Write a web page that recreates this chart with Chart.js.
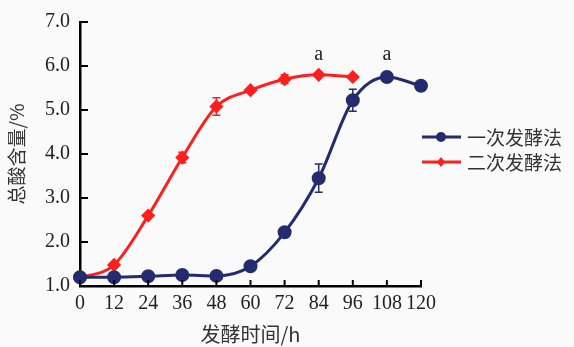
<!DOCTYPE html>
<html>
<head>
<meta charset="utf-8">
<script src="https://cdn.jsdelivr.net/npm/chart.js@4"></script>
<style>
  html, body { margin: 0; padding: 0; background: #fafafa; }
  #wrap { width: 574px; height: 347px; }
</style>
</head>
<body>
<div id="wrap"><canvas id="acidChart" width="574" height="347"></canvas></div>
<script>
// fermentation time (h)
const hoursOnce = [0, 12, 24, 36, 48, 60, 72, 84, 96, 108, 120];
const hoursTwice = [0, 12, 24, 36, 48, 60, 72, 84, 96];
// total acid content (%)
const acidOnce = [1.2, 1.2, 1.22, 1.25, 1.23, 1.45, 2.22, 3.45, 5.22, 5.75, 5.55];
const acidTwice = [1.18, 1.48, 2.6, 3.92, 5.08, 5.45, 5.7, 5.8, 5.75];
// error bars
const errOnce = [0.03, 0.03, 0.03, 0.03, 0.03, 0.04, 0.05, 0.32, 0.25, 0.05, 0.04];
const errTwice = [0.03, 0.05, 0.06, 0.12, 0.2, 0.06, 0.1, 0.05, 0.06];
// significance letters
const letterHours = [84, 108];
const letterText = ['a', 'a'];
const letterLevel = [6.26, 6.26];

const seriesNames = ['一次发酵法', '二次发酵法'];
const blue = '#232c6e';
const red = '#ff1f1f';
const serif = '"Liberation Serif", "Times New Roman", serif';
const cjk = '"Noto Sans CJK SC", sans-serif';

function toPoints(xs, ys) {
  return xs.map((x, i) => ({ x: x, y: ys[i] }));
}

// error bars, inward ticks, letters and legend
const extras = {
  id: 'extras',
  afterDatasetsDraw(chart) {
    const ctx = chart.ctx;
    const xs = chart.scales.x, ys = chart.scales.y;
    const area = chart.chartArea;

    // inward tick marks
    ctx.save();
    ctx.strokeStyle = '#000';
    ctx.lineWidth = 2;
    for (let v = 0; v <= 120; v += 12) {
      const px = xs.getPixelForValue(v);
      ctx.beginPath();
      ctx.moveTo(px, area.bottom);
      ctx.lineTo(px, area.bottom - 6);
      ctx.stroke();
    }
    for (let v = 1; v <= 7; v += 1) {
      const py = ys.getPixelForValue(v);
      ctx.beginPath();
      ctx.moveTo(area.left, py);
      ctx.lineTo(area.left + 8, py);
      ctx.stroke();
    }

    // error bars
    const bars = [[hoursOnce, acidOnce, errOnce, blue], [hoursTwice, acidTwice, errTwice, red]];
    bars.forEach(([hx, vy, ev, col]) => {
      ctx.strokeStyle = col;
      ctx.lineWidth = 1.5;
      hx.forEach((h, i) => {
        if (ev[i] < 0.08) return;
        const px = xs.getPixelForValue(h);
        const top = ys.getPixelForValue(vy[i] + ev[i]);
        const bot = ys.getPixelForValue(vy[i] - ev[i]);
        ctx.beginPath();
        ctx.moveTo(px, top); ctx.lineTo(px, bot);
        ctx.moveTo(px - 4, top); ctx.lineTo(px + 4, top);
        ctx.moveTo(px - 4, bot); ctx.lineTo(px + 4, bot);
        ctx.stroke();
      });
    });

    // letters
    ctx.fillStyle = '#222';
    ctx.font = '20px ' + serif;
    ctx.textAlign = 'center';
    ctx.textBaseline = 'middle';
    letterHours.forEach((h, i) => {
      ctx.fillText(letterText[i], xs.getPixelForValue(h), ys.getPixelForValue(letterLevel[i]));
    });

    // legend
    const cols = [blue, red];
    const rows = [137, 162];
    ctx.font = '19px ' + cjk;
    ctx.textAlign = 'left';
    seriesNames.forEach((name, i) => {
      const y = rows[i];
      ctx.strokeStyle = cols[i];
      ctx.lineWidth = 3;
      ctx.beginPath();
      ctx.moveTo(422, y); ctx.lineTo(461, y);
      ctx.stroke();
      ctx.fillStyle = cols[i];
      ctx.beginPath();
      if (i === 0) {
        ctx.arc(441, y, 5, 0, Math.PI * 2);
      } else {
        ctx.moveTo(441, y - 5); ctx.lineTo(445, y); ctx.lineTo(441, y + 5); ctx.lineTo(437, y);
        ctx.closePath();
      }
      ctx.fill();
      ctx.fillStyle = '#333';
      ctx.fillText(name, 467, y + 1);
    });
    ctx.restore();
  }
};

const chart = new Chart(document.getElementById('acidChart'), {
  type: 'line',
  data: {
    datasets: [
      {
        label: seriesNames[0],
        data: toPoints(hoursOnce, acidOnce),
        borderColor: blue,
        backgroundColor: blue,
        borderWidth: 3,
        pointRadius: 5.5,
        pointStyle: 'circle',
        cubicInterpolationMode: 'monotone',
        clip: false
      },
      {
        label: seriesNames[1],
        data: toPoints(hoursTwice, acidTwice),
        borderColor: red,
        backgroundColor: red,
        borderWidth: 3,
        pointRadius: 5,
        pointStyle: 'rectRot',
        cubicInterpolationMode: 'monotone',
        clip: false
      }
    ]
  },
  options: {
    responsive: false,
    animation: false,
    layout: { padding: { top: 21, right: 153, left: 0, bottom: 0 } },
    plugins: {
      legend: { display: false },
      tooltip: { enabled: false }
    },
    scales: {
      x: {
        type: 'linear',
        min: 0,
        max: 120,
        afterFit: (s) => { s.height = 61; },
        grid: { display: true, drawOnChartArea: false, drawTicks: false },
        border: { color: '#000', width: 2.5 },
        ticks: {
          stepSize: 12,
          padding: 6,
          autoSkip: false,
          maxRotation: 0,
          minRotation: 0,
          color: '#222',
          font: { family: serif, size: 20 }
        },
        title: {
          display: true,
          text: '发酵时间/h',
          color: '#333',
          padding: { top: 0, bottom: 1 },
          font: { family: cjk, size: 20 }
        }
      },
      y: {
        min: 1,
        max: 7,
        afterFit: (s) => { s.width = 80; },
        grid: { display: true, drawOnChartArea: false, drawTicks: false },
        border: { color: '#000', width: 2.5 },
        ticks: {
          stepSize: 1,
          padding: 10,
          color: '#222',
          font: { family: serif, size: 20 },
          callback: (v) => v.toFixed(1)
        },
        title: {
          display: true,
          text: '总酸含量/%',
          color: '#333',
          padding: { top: 5, bottom: 0 },
          font: { family: cjk, size: 19 }
        }
      }
    }
  },
  plugins: [extras]
});
</script>
</body>
</html>
